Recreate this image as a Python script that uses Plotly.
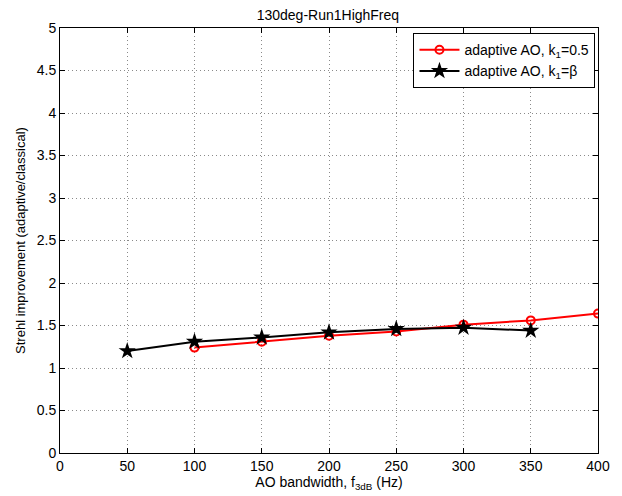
import plotly.graph_objects as go

x_red = [100, 150, 200, 250, 300, 350, 400]
y_red = [1.24, 1.31, 1.38, 1.43, 1.51, 1.56, 1.64]
x_black = [50, 100, 150, 200, 250, 300, 350]
y_black = [1.20, 1.31, 1.36, 1.42, 1.46, 1.475, 1.44]
x_ticks = [0, 50, 100, 150, 200, 250, 300, 350, 400]
y_ticks = [0, 0.5, 1, 1.5, 2, 2.5, 3, 3.5, 4, 4.5, 5]
y_ticklabels = ["0", "0.5", "1", "1.5", "2", "2.5", "3", "3.5", "4", "4.5", "5"]

FONT = "Liberation Sans, Arial, Helvetica, sans-serif"

fig = go.Figure()
fig.add_trace(go.Scatter(
    x=x_red, y=y_red, mode="lines+markers",
    name="adaptive AO, k<sub>1</sub>=0.5",
    line=dict(color="#ff0000", width=2),
    marker=dict(symbol="circle-open", size=8, color="#ff0000", line=dict(width=2)),
))
fig.add_trace(go.Scatter(
    x=x_black, y=y_black, mode="lines+markers",
    name="adaptive AO, k<sub>1</sub>=β",
    line=dict(color="#000000", width=2),
    marker=dict(symbol="star", size=13, color="#000000"),
))

axis_common = dict(
    showline=True, linecolor="black", linewidth=1, mirror="ticks",
    ticks="inside", ticklen=5, tickcolor="black",
    showgrid=True, gridcolor="#8a8a8a", griddash="1px,3px", gridwidth=1,
    zeroline=False,
    tickfont=dict(family=FONT, size=14, color="black"),
)

fig.update_xaxes(range=[0, 400], tickvals=x_ticks, ticktext=[str(v) for v in x_ticks],
                 title=dict(text="AO bandwidth, f<sub>3dB</sub> (Hz)", font=dict(family=FONT, size=14, color="black"), standoff=0),
                 **axis_common)
fig.update_yaxes(range=[0, 5], tickvals=y_ticks, ticktext=y_ticklabels,
                 title=dict(text="Strehl improvement (adaptive/classical)", font=dict(family=FONT, size=13, color="black"), standoff=8),
                 **axis_common)

fig.update_layout(
    width=614, height=488,
    margin=dict(l=49, r=23, t=20, b=42),
    paper_bgcolor="white", plot_bgcolor="white",
    title=dict(text="130deg-Run1HighFreq", x=0.521, xanchor="center", y=0.985, yanchor="middle",
               font=dict(family=FONT, size=14, color="black")),
    legend=dict(x=0.657, y=0.988, xanchor="left", yanchor="top",
                bordercolor="black", borderwidth=1, bgcolor="white",
                font=dict(family=FONT, size=14, color="black"),
                itemwidth=40, tracegroupgap=2),
    showlegend=True,
)

fig.write_html("out.html")
